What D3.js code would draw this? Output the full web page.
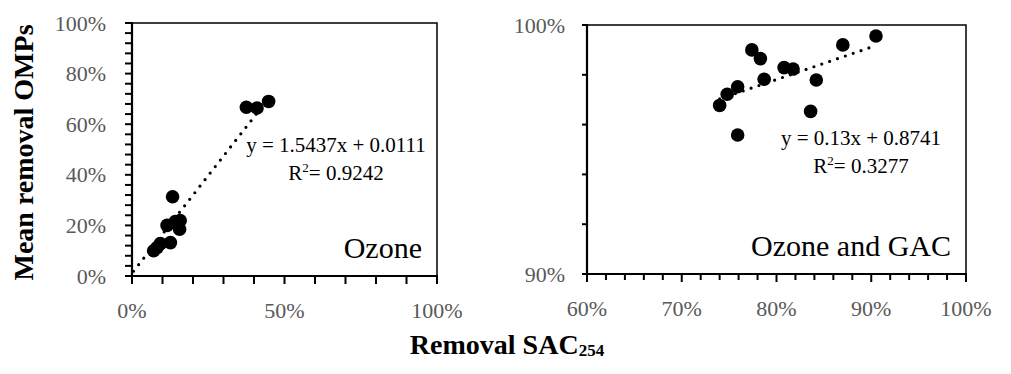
<!DOCTYPE html>
<html>
<head>
<meta charset="utf-8">
<script src="https://cdn.jsdelivr.net/npm/d3@7"></script>
<style>
  html, body { margin: 0; padding: 0; background: #fff; }
  svg { display: block; }
  text { font-family: "Liberation Serif", "Times New Roman", serif; }
</style>
</head>
<body>
<svg id="chart" width="1011" height="374"></svg>
<script>
// ---- Data ----
const ozoneX = [0.071, 0.082, 0.093, 0.126, 0.115, 0.133, 0.142, 0.158, 0.156, 0.375, 0.410, 0.448];
const ozoneY = [0.100, 0.112, 0.128, 0.132, 0.200, 0.313, 0.215, 0.219, 0.185, 0.667, 0.664, 0.690];
const gacX = [0.740, 0.748, 0.759, 0.759, 0.774, 0.783, 0.787, 0.808, 0.8175, 0.842, 0.836, 0.870, 0.905];
const gacY = [0.9677, 0.9722, 0.9752, 0.9558, 0.9900, 0.9865, 0.9782, 0.9829, 0.9823, 0.9779, 0.9653, 0.9920, 0.9956];
const ozoneFit = { slope: 1.5437, intercept: 0.0111, xStart: 0.005 };
const gacFit = { slope: 0.13, intercept: 0.8741 };
const ozoneEqText = ["y = 1.5437x + 0.0111", "= 0.9242"];
const gacEqText = ["y = 0.13x + 0.8741", "= 0.3277"];
const ozoneXTicks = [0, 0.5, 1.0];
const ozoneYTicks = [0, 0.2, 0.4, 0.6, 0.8, 1.0];
const gacXTicks = [0.6, 0.7, 0.8, 0.9, 1.0];
const gacYTicks = [0.9, 1.0];
const panelLabels = ["Ozone", "Ozone and GAC"];
const yTitle = "Mean removal OMPs";
const xTitle = ["Removal SAC", "254"];

const svg = d3.select("#chart");
const GRAY = "#595959";
const pct = d3.format(".0%");

function panel(cfg) {
  const x = d3.scaleLinear().domain(cfg.xDomain).range([cfg.x0, cfg.x1]);
  const y = d3.scaleLinear().domain(cfg.yDomain).range([cfg.y1, cfg.y0]);
  const g = svg.append("g");

  // box (top and right)
  g.append("path")
    .attr("d", `M${cfg.x0},${cfg.y0}H${cfg.x1}V${cfg.y1}`)
    .attr("fill", "none").attr("stroke", "#000").attr("stroke-width", 1.5);

  // minor ticks
  const yMinor = d3.range(cfg.yDomain[0], cfg.yDomain[1] + 1e-9, cfg.yMinorStep);
  const xMinor = d3.range(cfg.xDomain[0], cfg.xDomain[1] + 1e-9, cfg.xMinorStep);

  g.selectAll(".yt").data(yMinor).enter().append("line")
    .attr("x1", cfg.x0 - cfg.yTickLen).attr("x2", cfg.x0)
    .attr("y1", d => y(d)).attr("y2", d => y(d))
    .attr("stroke", "#000").attr("stroke-width", 2);

  g.selectAll(".xt").data(xMinor).enter().append("line")
    .attr("x1", d => x(d)).attr("x2", d => x(d))
    .attr("y1", cfg.y1)
    .attr("y2", d => {
      const major = cfg.xTicks.some(t => Math.abs(t - d) < 1e-6);
      return cfg.y1 + (major ? cfg.xMajorLen : cfg.xTickLen);
    })
    .attr("stroke", "#000").attr("stroke-width", 2);

  // axes lines
  g.append("line").attr("x1", cfg.x0).attr("x2", cfg.x0)
    .attr("y1", cfg.y0 - 1).attr("y2", cfg.y1 + 1)
    .attr("stroke", "#000").attr("stroke-width", 2.2);
  g.append("line").attr("x1", cfg.x0 - 1).attr("x2", cfg.x1 + 1)
    .attr("y1", cfg.y1).attr("y2", cfg.y1)
    .attr("stroke", "#000").attr("stroke-width", 2.2);

  // tick labels
  g.selectAll(".yl").data(cfg.yTicks).enter().append("text")
    .attr("x", cfg.yLabelX).attr("y", d => y(d) + 7.5)
    .attr("text-anchor", "end").attr("font-size", 22).attr("fill", GRAY)
    .text(d => pct(d));
  g.selectAll(".xl").data(cfg.xTicks).enter().append("text")
    .attr("x", d => x(d)).attr("y", cfg.y1 + 42)
    .attr("text-anchor", "middle").attr("font-size", 22).attr("fill", GRAY)
    .text(d => pct(d));

  // trendline
  const xs = cfg.fit.xStart !== undefined ? cfg.fit.xStart : d3.min(cfg.xs);
  const xe = d3.max(cfg.xs);
  g.append("line")
    .attr("x1", x(xs)).attr("y1", y(cfg.fit.slope * xs + cfg.fit.intercept))
    .attr("x2", x(xe)).attr("y2", y(cfg.fit.slope * xe + cfg.fit.intercept))
    .attr("stroke", "#000").attr("stroke-width", 3.2)
    .attr("stroke-linecap", "round").attr("stroke-dasharray", "0 8.3");

  // points
  g.selectAll(".pt").data(cfg.xs.map((v, i) => [v, cfg.ys[i]])).enter().append("circle")
    .attr("cx", d => x(d[0])).attr("cy", d => y(d[1])).attr("r", 6.8)
    .attr("fill", "#000");

  // equation
  const eq = g.append("g").attr("font-size", 21).attr("fill", "#000").attr("text-anchor", "middle");
  eq.append("text").attr("x", cfg.eqX).attr("y", cfg.eqY).text(cfg.eq[0]);
  const r2 = eq.append("text").attr("x", cfg.eqX).attr("y", cfg.eqY + 28);
  r2.append("tspan").text("R");
  r2.append("tspan").attr("font-size", 13).attr("dy", -8).text("2");
  r2.append("tspan").attr("dy", 8).text(cfg.eq[1]);

  // panel label
  g.append("text").attr("x", cfg.x1 - 15).attr("y", cfg.y1 - 18)
    .attr("text-anchor", "end").attr("font-size", 30).attr("fill", "#000")
    .text(cfg.label);
}

panel({
  x0: 132, x1: 437, y0: 23, y1: 276,
  xDomain: [0, 1], yDomain: [0, 1],
  xMinorStep: 0.1, yMinorStep: 0.04,
  xTicks: ozoneXTicks, yTicks: ozoneYTicks,
  xTickLen: 8, xMajorLen: 8, yTickLen: 7,
  yLabelX: 106,
  xs: ozoneX, ys: ozoneY, fit: ozoneFit,
  eq: ozoneEqText, eqX: 336, eqY: 152,
  label: panelLabels[0]
});

panel({
  x0: 587, x1: 966, y0: 25, y1: 274,
  xDomain: [0.6, 1], yDomain: [0.9, 1],
  xMinorStep: 0.02, yMinorStep: 0.02,
  xTicks: gacXTicks, yTicks: gacYTicks,
  xTickLen: 6, xMajorLen: 8, yTickLen: 5,
  yLabelX: 565,
  xs: gacX, ys: gacY, fit: gacFit,
  eq: gacEqText, eqX: 861, eqY: 145,
  label: panelLabels[1]
});

// axis titles
svg.append("text")
  .attr("transform", "translate(33,152.5) rotate(-90)")
  .attr("text-anchor", "middle").attr("font-size", 28).attr("font-weight", "bold")
  .text(yTitle);

const xt = svg.append("text")
  .attr("x", 507).attr("y", 354)
  .attr("text-anchor", "middle").attr("font-size", 28).attr("font-weight", "bold");
xt.append("tspan").text(xTitle[0]);
xt.append("tspan").attr("font-size", 17).attr("dy", 2).text(xTitle[1]);
</script>
</body>
</html>
